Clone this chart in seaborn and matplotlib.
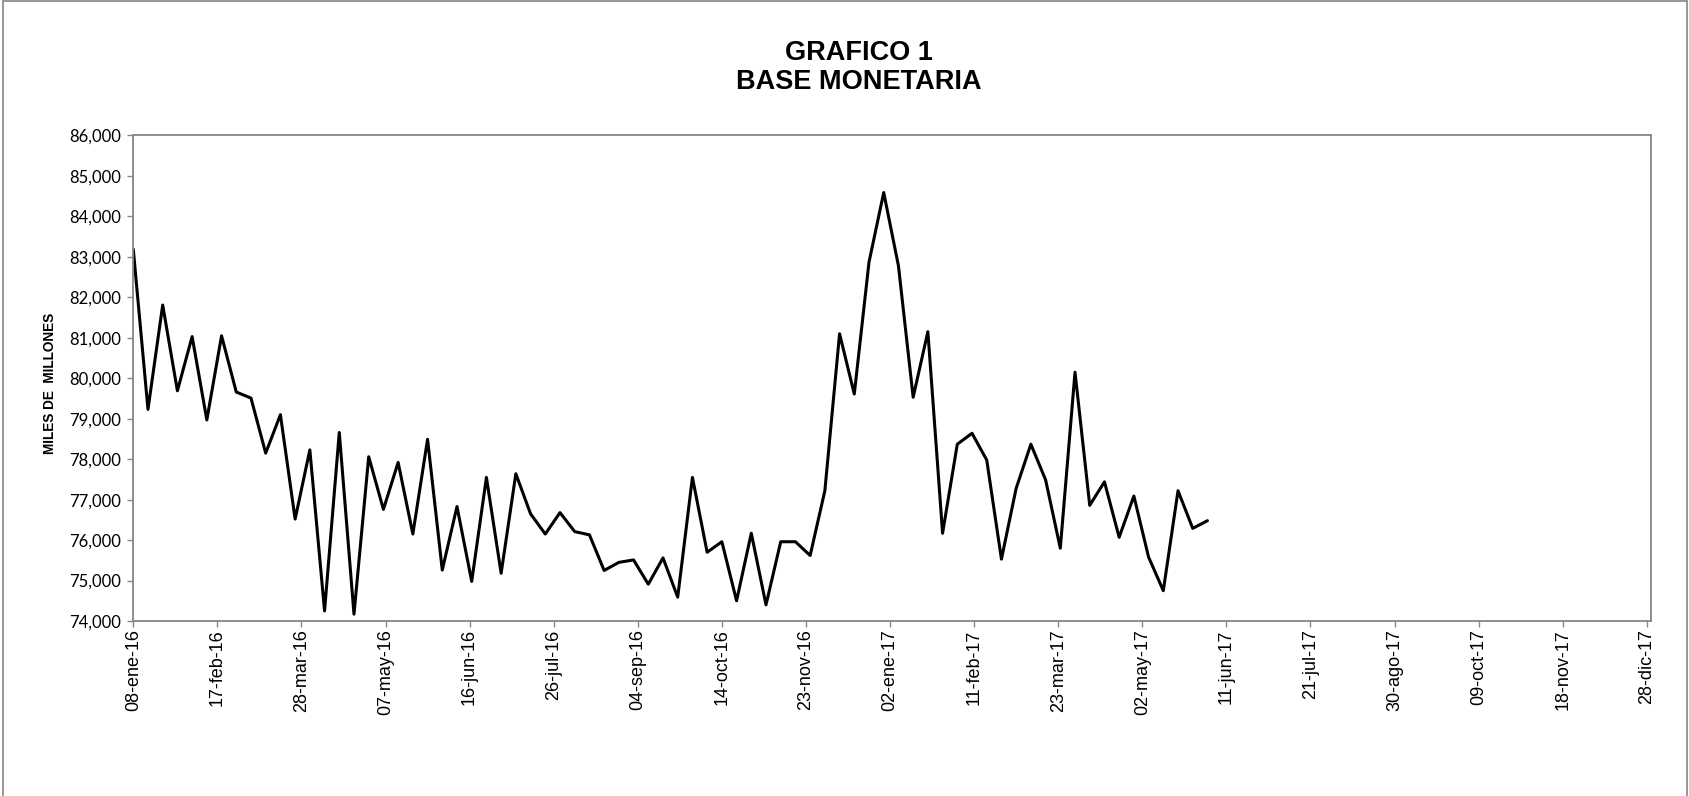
import matplotlib
matplotlib.use("Agg")
import matplotlib.pyplot as plt
import matplotlib.dates as mdates
from matplotlib.lines import Line2D
from matplotlib.ticker import FuncFormatter, MultipleLocator
import pandas as pd
import seaborn as sns

# weekly values, miles de millones
base_monetaria = [
    83190, 79230, 81810, 79690, 81030, 78970, 81050, 79660, 79510, 78150,
    79100, 76520, 78230, 74250, 78660, 74170, 78060, 76760, 77920, 76150,
    78490, 75260, 76830, 74980, 77550, 75180, 77640, 76650, 76150, 76680,
    76210, 76130, 75250, 75450, 75510, 74910, 75560, 74590, 77550, 75700,
    75960, 74500, 76170, 74400, 75960, 75960, 75620, 77220, 81100, 79610,
    82870, 84590, 82780, 79530, 81150, 76170, 78370, 78640, 77980, 75530,
    77280, 78370, 77490, 75800, 80150, 76860, 77440, 76070, 77090, 75580,
    74750, 77220, 76290, 76480,
]
first_week = "2016-01-08"

tick_labels = [
    "08-ene-16", "17-feb-16", "28-mar-16", "07-may-16", "16-jun-16",
    "26-jul-16", "04-sep-16", "14-oct-16", "23-nov-16", "02-ene-17",
    "11-feb-17", "23-mar-17", "02-may-17", "11-jun-17", "21-jul-17",
    "30-ago-17", "09-oct-17", "18-nov-17", "28-dic-17",
]

dates = pd.date_range(first_week, periods=len(base_monetaria), freq="7D")
tick_dates = pd.date_range(first_week, periods=len(tick_labels), freq="40D")
df = pd.DataFrame({"fecha": dates, "base": base_monetaria})

sns.set_style("white")
plt.rcParams["font.family"] = ["Liberation Sans", "DejaVu Sans"]
plt.rcParams["text.color"] = "black"

grey = "#868686"
fig = plt.figure(figsize=(16.89, 7.96), dpi=100)
ax = fig.add_axes([0.0789, 0.2198, 0.8986, 0.6100])

sns.lineplot(data=df, x="fecha", y="base", color="black", linewidth=2.2, ax=ax)

ax.set_xlim(tick_dates[0], tick_dates[-1] + pd.Timedelta(days=2))
ax.set_ylim(74000, 86000)
ax.yaxis.set_major_locator(MultipleLocator(1000))
ax.yaxis.set_major_formatter(FuncFormatter(lambda v, p: f"{int(v):,}"))

ax.set_xticks(mdates.date2num(tick_dates))
ax.set_xticklabels(tick_labels, rotation=90, ha="center", va="top",
                   fontsize=13, family=["Liberation Sans", "DejaVu Sans"])
for lab in ax.get_yticklabels():
    lab.set_family(["Lato", "DejaVu Sans"])
    lab.set_fontsize(12)

ax.tick_params(axis="x", length=4, width=1, color=grey, labelcolor="black",
               pad=2, bottom=True)
ax.tick_params(axis="y", length=4, width=1, color=grey, labelcolor="black",
               pad=4.5, left=True)
for s in ax.spines.values():
    s.set_color(grey)
    s.set_linewidth(1.3)

ax.set_xlabel("")
ax.set_ylabel("")

fig.text(50 / 1689, 1 - 383.5 / 796, "MILES DE  MILLONES", rotation=90,
         ha="center", va="center", fontsize=9.8, fontweight="bold")
fig.text(0.5086, 1 - 60.5 / 796, "GRAFICO 1", ha="center", va="baseline",
         fontsize=19.5, fontweight="bold")
fig.text(0.5086, 1 - 89 / 796, "BASE MONETARIA", ha="center", va="baseline",
         fontsize=19.5, fontweight="bold")

# outer chart frame
frame_kw = dict(color=grey, linewidth=1.2, transform=fig.transFigure)
fig.add_artist(Line2D([0.002, 0.002], [0, 0.999], **frame_kw))
fig.add_artist(Line2D([0.002, 0.999], [0.999, 0.999], **frame_kw))
fig.add_artist(Line2D([0.999, 0.999], [0, 0.999], **frame_kw))

fig.savefig("out.png", dpi=100)
